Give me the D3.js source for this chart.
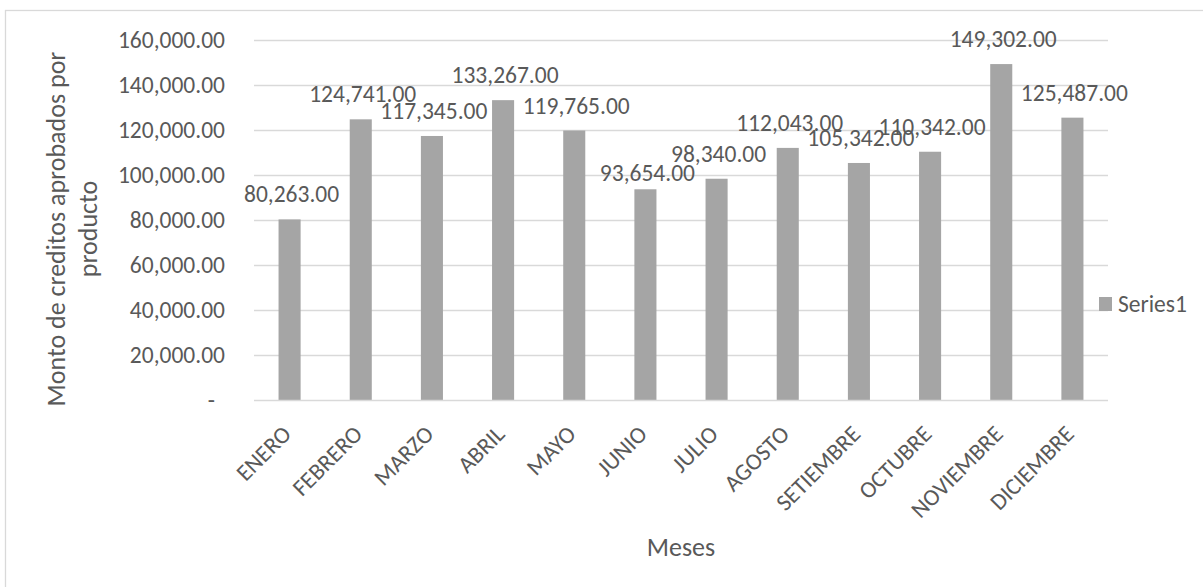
<!DOCTYPE html>
<html>
<head>
<meta charset="utf-8">
<script src="https://cdn.jsdelivr.net/npm/d3@7"></script>
<style>
  html, body { margin: 0; padding: 0; background: #fff; }
  svg { display: block; }
  text { font-family: Carlito, Calibri, "Open Sans", sans-serif; fill: #595959; }
</style>
</head>
<body>
<svg id="chart" width="1203" height="587"></svg>
<script>
const months = ["ENERO","FEBRERO","MARZO","ABRIL","MAYO","JUNIO","JULIO","AGOSTO","SETIEMBRE","OCTUBRE","NOVIEMBRE","DICIEMBRE"];
const values = [80263, 124741, 117345, 133267, 119765, 93654, 98340, 112043, 105342, 110342, 149302, 125487];
const yTicks = [0, 20000, 40000, 60000, 80000, 100000, 120000, 140000, 160000];
const seriesName = "Series1";
const xTitle = "Meses";
const yTitleLines = ["Monto de creditos aprobados por", "producto"];

const svg = d3.select("#chart");
const plot = { left: 254, right: 1108, top: 40, bottom: 400 };
const fs = "23.5px";

// outer chart border (right/bottom edges fall outside the frame)
svg.append("rect")
  .attr("x", 5.5).attr("y", 10.5)
  .attr("width", 1220).attr("height", 600)
  .attr("fill", "none").attr("stroke", "#D9D9D9").attr("stroke-width", 1.3);

const x = d3.scaleBand().domain(months).range([plot.left, plot.right]).paddingInner(0.69).paddingOuter(0.345);
const y = d3.scaleLinear().domain([0, 160000]).range([plot.bottom, plot.top]);

const fmt = d3.format(",.2f");

// gridlines
svg.append("g").selectAll("line").data(yTicks.filter(d => d > 0)).join("line")
  .attr("x1", plot.left).attr("x2", plot.right)
  .attr("y1", d => Math.round(y(d)) + 0.5).attr("y2", d => Math.round(y(d)) + 0.5)
  .attr("stroke", "#D9D9D9").attr("stroke-width", 1.3);

// y axis labels
const yAxis = d3.axisLeft(y).tickValues(yTicks).tickSize(0).tickPadding(0)
  .tickFormat(d => d === 0 ? "-" : fmt(d));
const gy = svg.append("g").attr("transform", `translate(${plot.left - 29},0)`).call(yAxis);
gy.attr("font-family", null);
gy.select(".domain").remove();
gy.selectAll("text").style("font-size", fs).attr("fill", "#595959")
  .attr("dx", d => d === 0 ? -10 : 0);

// bars
svg.append("g").selectAll("rect").data(values).join("rect")
  .attr("x", (d, i) => x(months[i]))
  .attr("width", x.bandwidth())
  .attr("y", d => y(d))
  .attr("height", d => y(0) - y(d))
  .attr("fill", "#A5A5A5");

// baseline axis
const xAxis = d3.axisBottom(x).tickSize(0).tickPadding(0);
const gx = svg.append("g").attr("transform", `translate(0,${plot.bottom + 0.5})`).call(xAxis);
gx.attr("font-family", null);
gx.select(".domain").attr("stroke", "#D9D9D9").attr("stroke-width", 1.3)
  .attr("d", `M${plot.left},0H${plot.right}`);
gx.selectAll(".tick text")
  .style("font-size", fs).attr("fill", "#595959")
  .attr("text-anchor", "end")
  .attr("transform", "translate(3,35) rotate(-45)")
  .attr("y", 0).attr("dy", 0);

// data labels
const labelNudge = { JUNIO: 9 };
svg.append("g").selectAll("text").data(values).join("text")
  .attr("x", (d, i) => x(months[i]) + x.bandwidth() / 2 + 2)
  .attr("y", (d, i) => y(d) - 17 + (labelNudge[months[i]] || 0))
  .attr("text-anchor", "middle")
  .style("font-size", fs)
  .text(d => fmt(d));

// axis titles
svg.append("text")
  .attr("x", (plot.left + plot.right) / 2).attr("y", 556)
  .attr("text-anchor", "middle").style("font-size", "26px")
  .text(xTitle);

const yt = svg.append("text")
  .attr("transform", "translate(65,229) rotate(-90)")
  .attr("text-anchor", "middle").style("font-size", "26px");
yt.selectAll("tspan").data(yTitleLines).join("tspan")
  .attr("x", 0).attr("dy", (d, i) => i === 0 ? 0 : 32)
  .text(d => d);

// legend
const lg = svg.append("g").attr("transform", "translate(1099,297)");
lg.append("rect").attr("width", 13).attr("height", 14).attr("fill", "#A5A5A5");
lg.append("text").attr("x", 19).attr("y", 7).attr("dy", "0.35em")
  .style("font-size", fs).text(seriesName);
</script>
</body>
</html>
